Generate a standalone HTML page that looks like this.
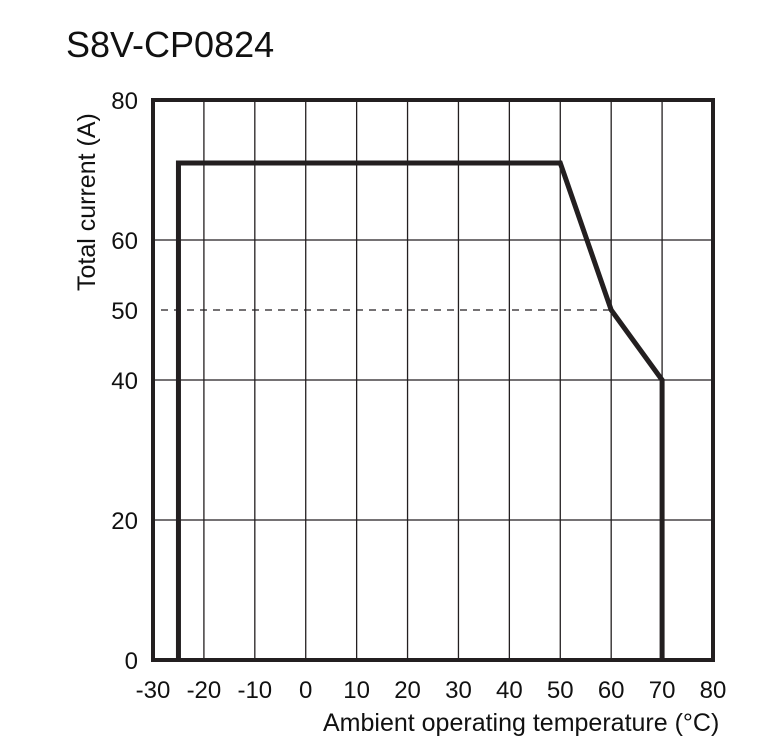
<!DOCTYPE html>
<html><head><meta charset="utf-8">
<style>
html,body{margin:0;padding:0;background:#fff;}
svg text{font-family:"Liberation Sans",Arial,sans-serif;fill:#111;}
</style></head>
<body>
<svg id="chart" width="778" height="747" viewBox="0 0 778 747" xmlns="http://www.w3.org/2000/svg">
<text x="66" y="57" font-size="36">S8V-CP0824</text>
<g id="grid"></g>
<g id="ticks"></g>
<polyline id="curve" fill="none" stroke="#231f20" stroke-width="5" stroke-linejoin="miter"/>
<rect x="153" y="100" width="560" height="560" fill="none" stroke="#231f20" stroke-width="4"/>
<text transform="translate(95,291) rotate(-90)" font-size="25">Total current (A)</text>
<text x="323" y="731" font-size="25">Ambient operating temperature (°C)</text>
</svg>
<script>
const xTicks = [-30,-20,-10,0,10,20,30,40,50,60,70,80];
const yTicks = [0,20,40,50,60,80];
const yGrid = [20,40,60];
const yDashed = [50];
const curveTemps = [-25,-25,50,60,70,70];
const curveCurrents = [0,71,71,50,40,0];

const X0=153, X1=713, Y0=660, Y1=100;
const sx = v => X0 + (v-(-30))/(80-(-30))*(X1-X0);
const sy = v => Y0 - v/80*(Y0-Y1);
const NS="http://www.w3.org/2000/svg";
const grid=document.getElementById('grid'), ticks=document.getElementById('ticks');
function line(x1,y1,x2,y2,dash){
  const l=document.createElementNS(NS,'line');
  l.setAttribute('x1',x1);l.setAttribute('y1',y1);l.setAttribute('x2',x2);l.setAttribute('y2',y2);
  l.setAttribute('stroke','#231f20');l.setAttribute('stroke-width','1.3');
  if(dash) l.setAttribute('stroke-dasharray','7,6');
  grid.appendChild(l);return l;
}
xTicks.forEach(v=>{
  if(v>-30&&v<80){const l=line(sx(v),Y1,sx(v),Y0);
    
    }
  const t=document.createElementNS(NS,'text');
  t.setAttribute('x',sx(v));t.setAttribute('y',698);t.setAttribute('font-size','24');t.setAttribute('text-anchor','middle');
  t.textContent=v;
  
  
  ticks.appendChild(t);
});
yGrid.forEach(v=>{const l=line(X0,sy(v),X1,sy(v));
  
  });
yDashed.forEach(v=>{const l=line(X0+8,sy(v),sx(60),sy(v),true);
  
  });
yTicks.forEach(v=>{
  const t=document.createElementNS(NS,'text');
  t.setAttribute('x',138);t.setAttribute('y',sy(v)+9);t.setAttribute('font-size','24');t.setAttribute('text-anchor','end');
  t.textContent=v;
  
  
  ticks.appendChild(t);
});
document.getElementById('curve').setAttribute('points',curveTemps.map((t,i)=>sx(t)+','+sy(curveCurrents[i])).join(' '));
</script>
</body></html>
